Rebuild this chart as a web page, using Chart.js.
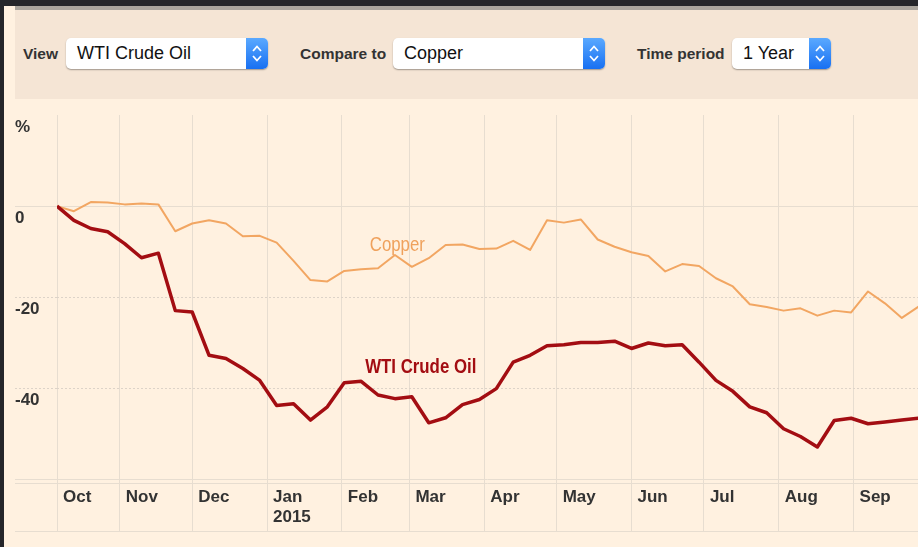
<!DOCTYPE html>
<html>
<head>
<meta charset="utf-8">
<script src="https://cdn.jsdelivr.net/npm/chart.js@4"></script>
<style>
  html, body { margin: 0; padding: 0; }
  body { width: 918px; height: 547px; background: #25262a; position: relative; overflow: hidden; }
  #page { position: absolute; left: 4px; top: 6px; right: 0; bottom: 0; background: #fff1e0; }
  #panel { position: absolute; left: 15px; top: 6px; right: 0; height: 93px; background: #f5e5d5; border-top: 4px solid #aaa59d; box-sizing: border-box; }
  .lbl { position: absolute; top: 45px; font: bold 15.5px "Liberation Sans", Arial, sans-serif; color: #333; }
  .sel { position: absolute; top: 38px; height: 31px; background: #fff; border-radius: 5px;
         box-shadow: 0 1px 1.5px rgba(0,0,0,0.35); font: 18px "Liberation Sans", Arial, sans-serif; color: #111; }
  .sel span { position: absolute; left: 11px; top: 5px; }
  .step { position: absolute; right: 0; top: 0; width: 22px; height: 31px; border-radius: 0 5px 5px 0;
          background: linear-gradient(#5aa9ff, #1870f2); }
  #chartBox { position: absolute; left: 4px; top: 99px; width: 914px; height: 432px; }
  #bottomLine { position: absolute; left: 15px; top: 531px; right: 0; height: 1px; background: #e7ddd0; }
</style>
</head>
<body>
<div id="page"></div>
<div id="panel"></div>
<div class="lbl" style="left:23px">View</div>
<div class="sel" style="left:66px;width:202px"><span>WTI Crude Oil</span><div class="step"></div></div>
<div class="lbl" style="left:300px">Compare to</div>
<div class="sel" style="left:393px;width:212px"><span>Copper</span><div class="step"></div></div>
<div class="lbl" style="left:637px">Time period</div>
<div class="sel" style="left:732px;width:99px"><span>1 Year</span><div class="step"></div></div>
<div id="chartBox"><canvas id="chart"></canvas></div>
<div id="bottomLine"></div>
<script>
// weekly % change since start of period (week 0 = early Oct 2014)
const weekDays = 7;
const copper = [0, -1.1, 0.9, 0.8, 0.4, 0.6, 0.4, -5.5, -3.8, -3.1, -3.8, -6.6, -6.5, -8.0,
  -12.0, -16.2, -16.5, -14.2, -13.8, -13.6, -10.7, -13.3, -11.4, -8.5, -8.4, -9.4, -9.3,
  -7.6, -9.6, -3.1, -3.6, -2.9, -7.3, -8.9, -10.1, -10.9, -14.3, -12.7, -13.1,
  -15.8, -17.6, -21.5, -22.1, -22.9, -22.4, -24.0, -22.9, -23.3, -18.7, -21.3, -24.5, -22.0];
const wti = [0, -3.1, -4.9, -5.6, -8.2, -11.3, -10.3, -22.9, -23.2, -32.7, -33.4, -35.6, -38.2, -43.7,
  -43.3, -46.9, -44.0, -38.7, -38.4, -41.4, -42.2, -41.8, -47.5, -46.4, -43.5, -42.4, -40.0,
  -34.2, -32.7, -30.6, -30.4, -29.9, -29.9, -29.6, -31.2, -30.0, -30.6, -30.4, -34.2,
  -38.2, -40.6, -44.0, -45.3, -48.8, -50.5, -52.8, -47.0, -46.5, -47.7, -47.3, -46.9, -46.5];

// month starts, in days from the first point
const monthDays = [0, 26, 56, 87, 118, 146, 177, 207, 238, 268, 299, 330];
const monthLabels = ['Oct', 'Nov', 'Dec', ['Jan', '2015'], 'Feb', 'Mar', 'Apr', 'May', 'Jun', 'Jul', 'Aug', 'Sep'];

const yTickValues = [20, 0, -20, -40];
const yTickLabels = ['%', '0', '-20', '-40'];
const yLines = [-60.7, -60, -40, -20, 0, 20];

const font = "'Liberation Sans', Arial, sans-serif";
const gridCol = '#e7ddd0';
const dotCol = '#ddd3c8';

// stepper chevrons
document.querySelectorAll('.step').forEach(s => {
  s.innerHTML = '<svg width="22" height="31"><path d="M7 13 L11 8.5 L15 13 M7 18 L11 22.5 L15 18" fill="none" stroke="#fff" stroke-width="1.7"/></svg>';
});

// series names written next to the lines, in a condensed face
const lineLabels = {
  id: 'lineLabels',
  afterDatasetsDraw(chart, args, opts) {
    const {ctx, scales} = chart;
    opts.items.forEach(it => {
      ctx.save();
      ctx.translate(scales.x.getPixelForValue(it.x), scales.y.getPixelForValue(it.y));
      ctx.scale(0.82, 1);
      ctx.textAlign = 'center';
      ctx.textBaseline = 'alphabetic';
      ctx.font = it.weight + ' 20.5px ' + font;
      ctx.fillStyle = it.color;
      ctx.fillText(it.text, 0, 0);
      ctx.restore();
    });
  }
};

const toPoints = arr => arr.map((v, i) => ({x: i * weekDays, y: v}));
const isDotted = c => c.tick && (c.tick.value === -20 || c.tick.value === -40);
const lineCol = c => c.tick && c.tick.value === 20 ? 'rgba(0,0,0,0)' : (isDotted(c) ? dotCol : gridCol);

new Chart(document.getElementById('chart'), {
  type: 'line',
  data: {
    datasets: [{
      label: 'WTI Crude Oil',
      data: toPoints(wti),
      borderColor: '#a30d12',
      borderWidth: 3.5,
      pointRadius: 0,
      tension: 0,
      borderJoinStyle: 'round'
    }, {
      label: 'Copper',
      data: toPoints(copper),
      borderColor: '#f2a662',
      borderWidth: 2,
      pointRadius: 0,
      tension: 0,
      borderJoinStyle: 'round'
    }]
  },
  plugins: [lineLabels],
  options: {
    animation: false,
    responsive: true,
    maintainAspectRatio: false,
    layout: { padding: { left: 11, top: 16, right: 0, bottom: 0 } },
    plugins: {
      legend: { display: false },
      tooltip: { enabled: false },
      lineLabels: {
        items: [
          { text: 'Copper', x: 141, y: -9.8, color: '#efa15c', weight: 'normal' },
          { text: 'WTI Crude Oil', x: 150.7, y: -36.6, color: '#a30d12', weight: 'bold' }
        ]
      }
    },
    scales: {
      x: {
        type: 'linear',
        min: 0,
        max: 356.7,
        afterBuildTicks: s => { s.ticks = monthDays.map(d => ({value: d})); },
        afterFit: s => { s.height = 48; },
        border: { display: false },
        grid: { color: gridCol, tickColor: gridCol, tickLength: 48, drawTicks: true },
        ticks: {
          autoSkip: false,
          maxRotation: 0,
          align: 'start',
          labelOffset: 6,
          padding: -44,
          color: '#333',
          font: { family: font, size: 17, weight: 'bold', lineHeight: 1.2 },
          callback: (v, i) => monthLabels[i]
        }
      },
      y: {
        min: -60.7,
        max: 20,
        afterBuildTicks: s => { s.ticks = yLines.map(v => ({value: v})); },
        afterFit: s => { s.width = 42; },
        border: { display: false, dash: c => isDotted(c) ? [2, 2] : [] },
        grid: {
          color: lineCol,
          tickColor: lineCol,
          tickBorderDash: c => isDotted(c) ? [2, 2] : [],
          tickLength: 42,
          drawTicks: true
        },
        ticks: {
          crossAlign: 'far',
          labelOffset: 12,
          color: '#333',
          font: { family: font, size: 17, weight: 'bold' },
          callback: v => {
            const k = yTickValues.indexOf(v);
            return k >= 0 ? yTickLabels[k] : '';
          }
        }
      }
    }
  }
});
</script>
</body>
</html>
